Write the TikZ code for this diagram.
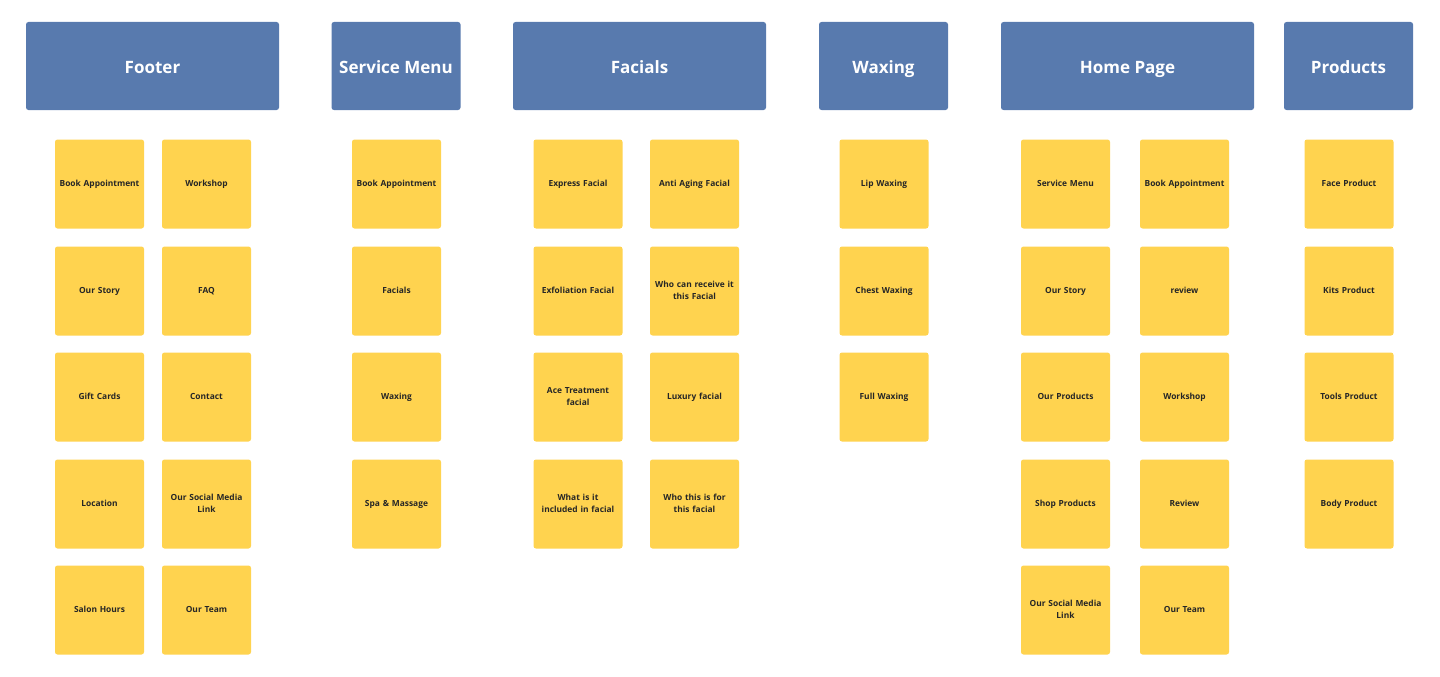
\documentclass[tikz,border=0pt]{standalone}
\usepackage{fontspec}
\setmainfont{Open Sans}
\definecolor{hdrblue}{HTML}{587AAE}
\definecolor{noteyel}{HTML}{FFD34F}
\definecolor{notetxt}{HTML}{262626}

\begin{document}
\begin{tikzpicture}[x=1pt, y=-1pt,
   header/.style={rectangle, rounded corners=2.5pt, fill=hdrblue, text=white,
      minimum height=88pt, text height=15pt, text depth=0pt,
      font=\fontsize{17}{19}\selectfont\bfseries},
   wide/.style={minimum width=253pt},
   narrow/.style={minimum width=129pt},
   note/.style={rectangle, rounded corners=2.5pt, fill=noteyel, text=notetxt,
      minimum width=89pt, minimum height=89pt, inner sep=0pt,
      text width=82pt, align=center, font=\fontsize{8.4}{12}\selectfont\bfseries}]
 \useasboundingbox (0,0) rectangle (1440,677);
 % headers
   \node (footer) [header, wide] at (152.5,66) {Footer};
   \node (service) [header, narrow] at (396,66) {Service Menu};
   \node (facials) [header, wide] at (639.5,66) {Facials};
   \node (waxing) [header, narrow] at (883.5,66) {Waxing};
   \node (home) [header, wide] at (1127.5,66) {Home Page};
   \node (products) [header, narrow] at (1348.5,66) {Products};
 % footer
   \node (f1) [note] at (99.5,184) {\strut Book Appointment};
   \node (f2) [note] at (206.5,184) {\strut Workshop};
   \node (f3) [note] at (99.5,291) {\strut Our Story};
   \node (f4) [note] at (206.5,291) {\strut FAQ};
   \node (f5) [note] at (99.5,397) {\strut Gift Cards};
   \node (f6) [note] at (206.5,397) {\strut Contact};
   \node (f7) [note] at (99.5,504) {\strut Location};
   \node (f8) [note] at (206.5,504) {\strut Our Social Media\\\strut Link};
   \node (f9) [note] at (99.5,610) {\strut Salon Hours};
   \node (f10) [note] at (206.5,610) {\strut Our Team};
 % service menu
   \node (s1) [note] at (396.5,184) {\strut Book Appointment};
   \node (s2) [note] at (396.5,291) {\strut Facials};
   \node (s3) [note] at (396.5,397) {\strut Waxing};
   \node (s4) [note] at (396.5,504) {\strut Spa \& Massage};
 % facials
   \node (fa1) [note] at (578,184) {\strut Express Facial};
   \node (fa2) [note] at (694.5,184) {\strut Anti Aging Facial};
   \node (fa3) [note] at (578,291) {\strut Exfoliation Facial};
   \node (fa4) [note] at (694.5,291) {\strut Who can receive it\\\strut this Facial};
   \node (fa5) [note] at (578,397) {\strut Ace Treatment\\\strut facial};
   \node (fa6) [note] at (694.5,397) {\strut Luxury facial};
   \node (fa7) [note] at (578,504) {\strut What is it\\\strut included in facial};
   \node (fa8) [note] at (694.5,504) {\strut Who this is for\\\strut this facial};
 % waxing
   \node (w1) [note] at (884,184) {\strut Lip Waxing};
   \node (w2) [note] at (884,291) {\strut Chest Waxing};
   \node (w3) [note] at (884,397) {\strut Full Waxing};
 % home page
   \node (h1) [note] at (1065.5,184) {\strut Service Menu};
   \node (h2) [note] at (1184.5,184) {\strut Book Appointment};
   \node (h3) [note] at (1065.5,291) {\strut Our Story};
   \node (h4) [note] at (1184.5,291) {\strut review};
   \node (h5) [note] at (1065.5,397) {\strut Our Products};
   \node (h6) [note] at (1184.5,397) {\strut Workshop};
   \node (h7) [note] at (1065.5,504) {\strut Shop Products};
   \node (h8) [note] at (1184.5,504) {\strut Review};
   \node (h9) [note] at (1065.5,610) {\strut Our Social Media\\\strut Link};
   \node (h10) [note] at (1184.5,610) {\strut Our Team};
 % products
   \node (p1) [note] at (1349,184) {\strut Face Product};
   \node (p2) [note] at (1349,291) {\strut Kits Product};
   \node (p3) [note] at (1349,397) {\strut Tools Product};
   \node (p4) [note] at (1349,504) {\strut Body Product};
\end{tikzpicture}
\end{document}
